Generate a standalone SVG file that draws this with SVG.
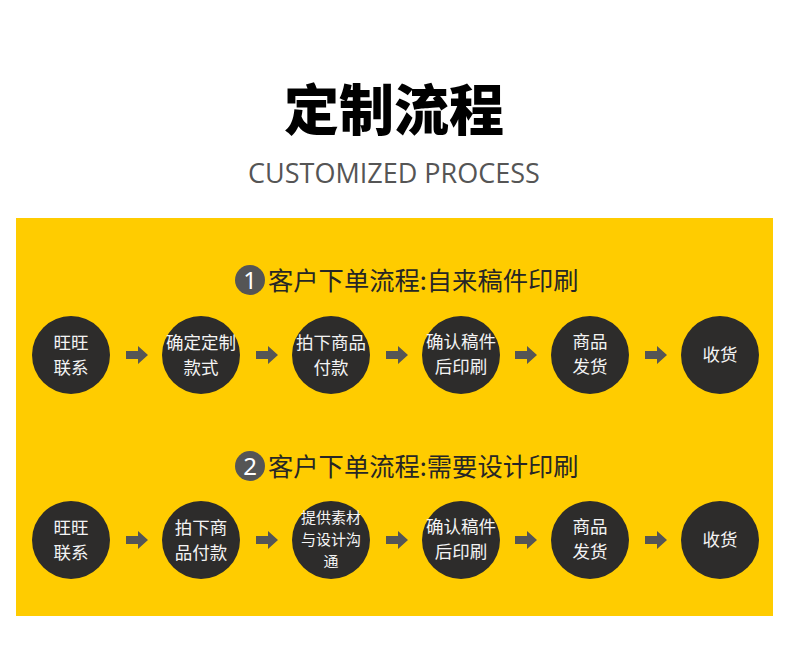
<svg xmlns="http://www.w3.org/2000/svg" width="790" height="656" viewBox="0 0 790 656">
<defs>
<style>
.t{font-family:"Noto Sans CJK SC","Noto Sans",sans-serif;}
.node circle{fill:#2d2c2b;}
.node text{fill:#f4f4f4;font-family:"Noto Sans CJK SC",sans-serif;font-size:17.5px;text-anchor:middle;font-weight:400;}
.node text.sm{font-size:15px;}
.arr{fill:#555555;}
.head{fill:#262626;font-family:"Noto Sans CJK SC",sans-serif;font-size:25.3px;}
.badge{fill:#555555;}
.badge-t{fill:#fff;font-family:"Noto Sans","Noto Sans CJK SC",sans-serif;font-size:24px;text-anchor:middle;}
</style>
<path id="arrow" d="M-11,-4 H1 V-9 L11,0 L1,9 V4 H-11 Z"/>
</defs>
<rect width="790" height="656" fill="#ffffff"/>
<text x="394" y="130" text-anchor="middle" class="t" font-size="55" font-weight="900" fill="#000">定制流程</text>
<text x="394" y="183" text-anchor="middle" font-family="'Open Sans','Noto Sans',sans-serif" font-size="27" fill="#555555" font-weight="400">CUSTOMIZED PROCESS</text>
<rect x="16" y="218" width="757" height="398" fill="#ffcc00"/>

<g id="heading1">
<circle class="badge" cx="250" cy="280" r="15"/>
<text class="badge-t" x="250" y="289">1</text>
<text class="head" x="268" y="290">客户下单流程:自来稿件印刷</text>
</g>
<g id="heading2">
<circle class="badge" cx="250" cy="466" r="15"/>
<text class="badge-t" x="250" y="475">2</text>
<text class="head" x="268" y="476">客户下单流程:需要设计印刷</text>
</g>

<g id="connectors">
<use href="#arrow" class="arr" x="137" y="355"/>
<use href="#arrow" class="arr" x="267" y="355"/>
<use href="#arrow" class="arr" x="397" y="355"/>
<use href="#arrow" class="arr" x="526" y="355"/>
<use href="#arrow" class="arr" x="656" y="355"/>
<use href="#arrow" class="arr" x="137" y="540"/>
<use href="#arrow" class="arr" x="267" y="540"/>
<use href="#arrow" class="arr" x="397" y="540"/>
<use href="#arrow" class="arr" x="526" y="540"/>
<use href="#arrow" class="arr" x="656" y="540"/>
</g>

<g id="n1-1" class="node"><circle cx="71" cy="355" r="39"/><text x="71" y="349">旺旺</text><text x="71" y="374">联系</text></g>
<g id="n1-2" class="node"><circle cx="201" cy="355" r="39"/><text x="201" y="349">确定定制</text><text x="201" y="374">款式</text></g>
<g id="n1-3" class="node"><circle cx="331" cy="355" r="39"/><text x="331" y="349">拍下商品</text><text x="331" y="374">付款</text></g>
<g id="n1-4" class="node"><circle cx="461" cy="355" r="39"/><text x="461" y="348">确认稿件</text><text x="461" y="373">后印刷</text></g>
<g id="n1-5" class="node"><circle cx="590" cy="355" r="39"/><text x="590" y="348">商品</text><text x="590" y="373">发货</text></g>
<g id="n1-6" class="node"><circle cx="720" cy="355" r="39"/><text x="720" y="361">收货</text></g>

<g id="n2-1" class="node"><circle cx="71" cy="540" r="39"/><text x="71" y="534">旺旺</text><text x="71" y="559">联系</text></g>
<g id="n2-2" class="node"><circle cx="201" cy="540" r="39"/><text x="201" y="534">拍下商</text><text x="201" y="559">品付款</text></g>
<g id="n2-3" class="node"><circle cx="331" cy="540" r="39"/><text class="sm" x="331" y="523">提供素材</text><text class="sm" x="331" y="545">与设计沟</text><text class="sm" x="331" y="567">通</text></g>
<g id="n2-4" class="node"><circle cx="461" cy="540" r="39"/><text x="461" y="533">确认稿件</text><text x="461" y="558">后印刷</text></g>
<g id="n2-5" class="node"><circle cx="590" cy="540" r="39"/><text x="590" y="533">商品</text><text x="590" y="558">发货</text></g>
<g id="n2-6" class="node"><circle cx="720" cy="540" r="39"/><text x="720" y="546">收货</text></g>
</svg>
